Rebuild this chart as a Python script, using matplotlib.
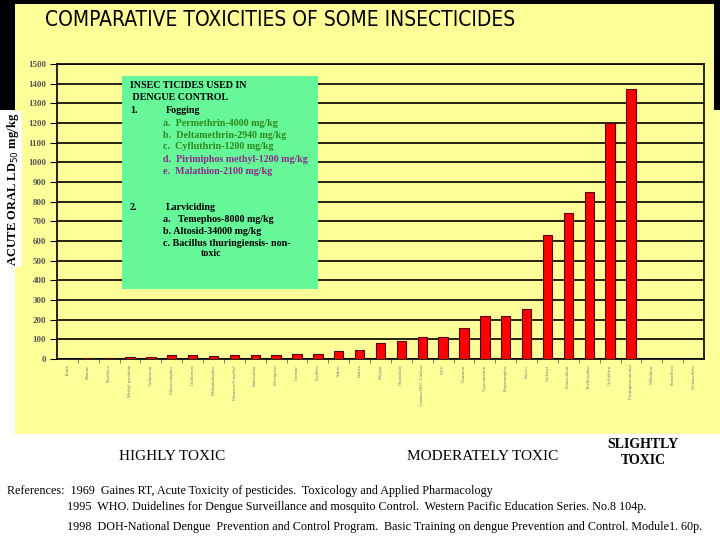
import matplotlib
matplotlib.use("Agg")
import matplotlib.pyplot as plt
from matplotlib.patches import Rectangle

plt.rcParams['font.family'] = ['Liberation Serif', 'DejaVu Serif']

# insecticides, left to right (names on the tiny x labels are guesses)
insecticides = ["Temik", "Phorate", "Parathion", "Methyl parathion", "Carbofuran",
                "Monocrotophos", "Dichlorvos", "Methamidophos", "Demeton-S-methyl",
                "Endosulfan", "Mevinphos", "Lindane", "Dieldrin", "Aldrin", "Endrin",
                "Baygon", "Heptachlor", "Gamma-BHC Lindane", "DDT", "Diazinon",
                "Cypermethrin", "Propetamphos", "Baytex", "Carbaryl", "Fenitrothion",
                "Trichlorphon", "Cyfluthrin", "Pirimiphos methyl", "Malathion",
                "Permethrin", "Deltamethrin"]
ld50 = [1, 5, 5, 11, 11, 18, 18, 16, 22, 22, 22, 27, 27, 40, 47,
        81, 93, 110, 114, 159, 220, 220, 256, 632, 742, 849, 1200, 1373, 0, 0, 0]
yticks = list(range(0, 1501, 100))

box_lines = [
    ("INSEC TICIDES USED IN", 130, 86, "black"),
    (" DENGUE CONTROL", 130, 98, "black"),
    ("1.", 130, 111, "black"),
    ("Fogging", 166, 111, "black"),
    ("a.  Permethrin-4000 mg/kg", 163, 123, "#2f8a1c"),
    ("b.  Deltamethrin-2940 mg/kg", 163, 135, "#2f8a1c"),
    ("c.  Cyfluthrin-1200 mg/kg", 163, 147, "#2f8a1c"),
    ("d.  Pirimiphos methyl-1200 mg/kg", 163, 159, "#8e2a8c"),
    ("e.  Malathion-2100 mg/kg", 163, 171, "#8e2a8c"),
    ("2.", 130, 207, "black"),
    ("Larviciding", 166, 207, "black"),
    ("a.   Temephos-8000 mg/kg", 163, 219, "black"),
    ("b. Altosid-34000 mg/kg", 163, 231, "black"),
    ("c. Bacillus thuringiensis- non-", 163, 243, "black"),
    ("toxic", 201, 254, "black"),
]

W, H = 720, 540
fig = plt.figure(figsize=(7.2, 5.4), dpi=100, facecolor='white')

def fx(px):
    return px / W

def fy(py):
    return 1 - py / H

# background panels (below the axes)
fig.patches.append(Rectangle((fx(15), fy(434)), fx(705), (434 - 4) / H,
                             transform=fig.transFigure, facecolor='#ffff99',
                             edgecolor='none', zorder=-2))
fig.patches.append(Rectangle((0, fy(4)), 1, 4 / H, transform=fig.transFigure,
                             facecolor='black', edgecolor='none', zorder=-1))
fig.patches.append(Rectangle((0, fy(110)), fx(15), 110 / H, transform=fig.transFigure,
                             facecolor='black', edgecolor='none', zorder=-1))
fig.patches.append(Rectangle((fx(714), fy(110)), fx(6), 110 / H, transform=fig.transFigure,
                             facecolor='black', edgecolor='none', zorder=-1))

ax = fig.add_axes([fx(57), fy(359), fx(704 - 57), (359 - 64) / H])
ax.set_facecolor('#ffff99')
x = list(range(len(insecticides)))
ax.bar(x, ld50, width=0.45, color='#ff0000', edgecolor='#5a0000', linewidth=0.8, zorder=3)
ax.set_xlim(-0.5, len(insecticides) - 0.5)
ax.set_ylim(0, 1500)
ax.set_yticks(yticks)
ax.set_yticklabels([str(v) for v in yticks], fontsize=6.5, fontweight='bold', color='#555555')
ax.yaxis.grid(True, color='black', linewidth=1.2, zorder=1)
ax.set_axisbelow(True)
ax.tick_params(axis='y', length=5, width=0.8, pad=3)

ax.set_xticks(x)
ax.set_xticklabels(insecticides, rotation=90, fontsize=3.3, color='#777777', va='top')
ax.set_xticks([i + 0.5 for i in x[:-1]], minor=True)
ax.tick_params(axis='x', which='major', length=0, pad=4)
ax.tick_params(axis='x', which='minor', length=3, width=0.6, color='#666666')
for s in ax.spines.values():
    s.set_linewidth(1.2)
    s.set_color('black')

# green info box, over the grid
fig.patches.append(Rectangle((fx(122), fy(289)), fx(318 - 122), (289 - 76) / H,
                             transform=fig.transFigure, facecolor='#66f799',
                             edgecolor='none', zorder=5))
for txt, px, py, col in box_lines:
    fig.text(fx(px), fy(py), txt, fontsize=7.2, fontweight='bold', color=col,
             ha='left', va='center', zorder=6)

# title
fig.text(fx(45), fy(20), "COMPARATIVE TOXICITIES OF SOME INSECTICIDES",
         fontsize=15, family=['Liberation Sans Narrow', 'DejaVu Sans'],
         stretch='condensed', color='black', ha='left', va='center')

# y label
fig.text(fx(13), fy(189), "ACUTE ORAL LD$_{50}$ mg/kg", rotation=90, fontsize=9,
         fontweight='bold', ha='center', va='center',
         bbox=dict(facecolor='white', edgecolor='none', pad=1))

# toxicity classes
fig.text(fx(172), fy(456), "HIGHLY TOXIC", fontsize=11, ha='center', va='center')
fig.text(fx(483), fy(456), "MODERATELY TOXIC", fontsize=11, ha='center', va='center')
fig.text(fx(643), fy(452), "SLIGHTLY\nTOXIC", fontsize=10, fontweight='bold',
         ha='center', va='center', linespacing=1.3)

# references
fig.text(fx(7), fy(491), "References:  1969  Gaines RT, Acute Toxicity of pesticides.  "
         "Toxicology and Applied Pharmacology", fontsize=8.7, ha='left', va='center')
fig.text(fx(67), fy(507), "1995  WHO. Duidelines for Dengue Surveillance and mosquito Control.  "
         "Western Pacific Education Series. No.8 104p.", fontsize=8.7, ha='left', va='center')
fig.text(fx(67), fy(527), "1998  DOH-National Dengue  Prevention and Control Program.  "
         "Basic Training on dengue Prevention and Control. Module1. 60p.",
         fontsize=8.7, ha='left', va='center')

fig.savefig("out.png", dpi=100, facecolor='white')
